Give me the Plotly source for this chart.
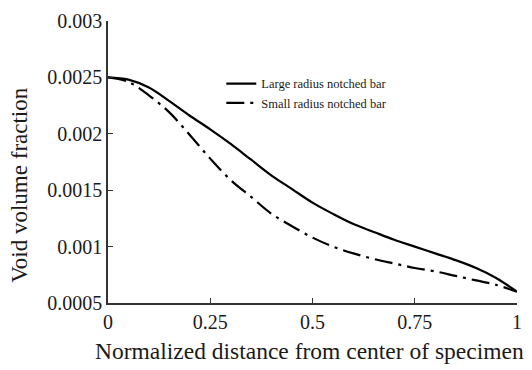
import plotly.graph_objects as go

x_vals = [0, 0.05, 0.1, 0.15, 0.2, 0.25, 0.3, 0.35, 0.4, 0.45, 0.5,
          0.55, 0.6, 0.65, 0.7, 0.75, 0.8, 0.85, 0.9, 0.95, 1.0]
large_radius = [0.00250, 0.00248, 0.00241, 0.00229, 0.00216, 0.00204, 0.00191,
                0.00177, 0.00163, 0.00151, 0.00139, 0.00129, 0.00120, 0.00113,
                0.00106, 0.00100, 0.00094, 0.00088, 0.00081, 0.00072, 0.00060]
small_radius = [0.00250, 0.00246, 0.00234, 0.00219, 0.00199, 0.00178, 0.00159,
                0.00144, 0.00129, 0.00118, 0.00108, 0.00100, 0.00094, 0.00089,
                0.00085, 0.00081, 0.00078, 0.00074, 0.00070, 0.00066, 0.00060]

x_ticks = [0, 0.25, 0.5, 0.75, 1]
x_tick_labels = ["0", "0.25", "0.5", "0.75", "1"]
y_ticks = [0.0005, 0.001, 0.0015, 0.002, 0.0025, 0.003]
y_tick_labels = ["0.0005", "0.001", "0.0015", "0.002", "0.0025", "0.003"]

FONT = "Liberation Serif, Times New Roman, serif"
INK = "#1a1a1a"

fig = go.Figure()
fig.add_trace(go.Scatter(x=x_vals, y=large_radius, mode="lines",
                         name="Large radius notched bar",
                         line=dict(color="black", width=2.2, shape="spline")))
fig.add_trace(go.Scatter(x=x_vals, y=small_radius, mode="lines",
                         name="Small radius notched bar",
                         line=dict(color="black", width=2.2, shape="spline",
                                   dash="18px,6px,3px,6px")))

axis_common = dict(showline=True, linecolor="#333", linewidth=1.5,
                   ticks="inside", ticklen=5, tickwidth=1.2, tickcolor="#333",
                   showgrid=False, zeroline=False, mirror=False,
                   tickfont=dict(family=FONT, size=20, color=INK))

fig.update_layout(
    width=532, height=370,
    margin=dict(l=108, r=10, t=20, b=67),
    paper_bgcolor="white", plot_bgcolor="white",
    showlegend=True,
    legend=dict(x=0.277, y=0.83, xanchor="left", yanchor="top",
                bgcolor="rgba(0,0,0,0)", tracegroupgap=0,
                font=dict(family=FONT, size=12.5, color=INK)),
    xaxis=dict(range=[0, 1], tickvals=x_ticks, ticktext=x_tick_labels,
               **axis_common),
    yaxis=dict(range=[0.0005, 0.003], tickvals=y_ticks, ticktext=y_tick_labels,
               **axis_common),
    annotations=[
        dict(text="Normalized distance from center of specimen",
             xref="paper", yref="paper", x=0.493, y=-0.17,
             xanchor="center", yanchor="middle", showarrow=False,
             font=dict(family=FONT, size=23.5, color=INK)),
        dict(text="Void volume fraction", textangle=-90,
             xref="paper", yref="paper", x=-0.217, y=0.42,
             xanchor="center", yanchor="middle", showarrow=False,
             font=dict(family=FONT, size=23, color=INK)),
    ],
)

fig.write_html("out.html")
